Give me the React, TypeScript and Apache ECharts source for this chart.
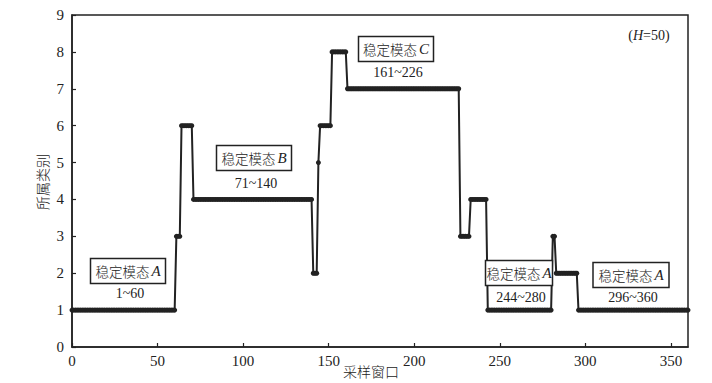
import React, { useEffect, useRef } from "react";
import * as echarts from "echarts";

// Category (所属类别) of each sampling window 0..360
const categoryValues: number[] = [
  // 0..60
  1, 1, 1, 1, 1, 1, 1, 1, 1, 1, 1, 1, 1, 1, 1, 1, 1, 1, 1, 1,
  1, 1, 1, 1, 1, 1, 1, 1, 1, 1, 1, 1, 1, 1, 1, 1, 1, 1, 1, 1,
  1, 1, 1, 1, 1, 1, 1, 1, 1, 1, 1, 1, 1, 1, 1, 1, 1, 1, 1, 1,
  1,
  // 61..70
  3, 3, 3, 6, 6, 6, 6, 6, 6, 6,
  // 71..140
  4, 4, 4, 4, 4, 4, 4, 4, 4, 4, 4, 4, 4, 4, 4, 4, 4, 4, 4, 4,
  4, 4, 4, 4, 4, 4, 4, 4, 4, 4, 4, 4, 4, 4, 4, 4, 4, 4, 4, 4,
  4, 4, 4, 4, 4, 4, 4, 4, 4, 4, 4, 4, 4, 4, 4, 4, 4, 4, 4, 4,
  4, 4, 4, 4, 4, 4, 4, 4, 4, 4,
  // 141..160
  2, 2, 2, 5, 6, 6, 6, 6, 6, 6, 6, 8, 8, 8, 8, 8, 8, 8, 8, 8,
  // 161..226
  7, 7, 7, 7, 7, 7, 7, 7, 7, 7, 7, 7, 7, 7, 7, 7, 7, 7, 7, 7,
  7, 7, 7, 7, 7, 7, 7, 7, 7, 7, 7, 7, 7, 7, 7, 7, 7, 7, 7, 7,
  7, 7, 7, 7, 7, 7, 7, 7, 7, 7, 7, 7, 7, 7, 7, 7, 7, 7, 7, 7,
  7, 7, 7, 7, 7, 7,
  // 227..242
  3, 3, 3, 3, 3, 3, 4, 4, 4, 4, 4, 4, 4, 4, 4, 4,
  // 243..280
  1, 1, 1, 1, 1, 1, 1, 1, 1, 1, 1, 1, 1, 1, 1, 1, 1, 1, 1, 1,
  1, 1, 1, 1, 1, 1, 1, 1, 1, 1, 1, 1, 1, 1, 1, 1, 1, 1,
  // 281..295
  3, 3, 2, 2, 2, 2, 2, 2, 2, 2, 2, 2, 2, 2, 2,
  // 296..360
  1, 1, 1, 1, 1, 1, 1, 1, 1, 1, 1, 1, 1, 1, 1, 1, 1, 1, 1, 1,
  1, 1, 1, 1, 1, 1, 1, 1, 1, 1, 1, 1, 1, 1, 1, 1, 1, 1, 1, 1,
  1, 1, 1, 1, 1, 1, 1, 1, 1, 1, 1, 1, 1, 1, 1, 1, 1, 1, 1, 1,
  1, 1, 1, 1, 1,
];

// Annotated stable modes
const modeNames: string[] = ["A", "B", "C", "A", "A"];
const modeRanges: string[] = ["1~60", "71~140", "161~226", "244~280", "296~360"];

const xTitle = "采样窗口";
const yTitle = "所属类别";

// layout of the annotation boxes (pixels): box centre x, y, width; range text y
const annotationLayout = [
  { cx: 128, cy: 271, w: 75, ry: 293 },
  { cx: 254, cy: 158, w: 75, ry: 183 },
  { cx: 396, cy: 49, w: 75, ry: 72 },
  { cx: 519, cy: 273, w: 67, ry: 297 },
  { cx: 631, cy: 275, w: 76, ry: 297 },
];

const SERIF = "'Liberation Serif', 'DejaVu Serif', serif";
const CJK = "'Noto Sans CJK SC', sans-serif";
const INK = "#222";

export default function App() {
  const ref = useRef<HTMLDivElement>(null);

  useEffect(() => {
    if (!ref.current) return;
    const chart = echarts.init(ref.current, undefined, { renderer: "svg" });

    const graphics: any[] = [];
    modeNames.forEach((name, i) => {
      const L = annotationLayout[i];
      const h = 25;
      graphics.push({
        type: "rect",
        shape: { x: L.cx - L.w / 2, y: L.cy - h / 2, width: L.w, height: h },
        style: { fill: "#fff", stroke: INK, lineWidth: 1.5 },
        z: 10,
      });
      graphics.push({
        type: "text",
        x: L.cx,
        y: L.cy,
        style: {
          text: "{cn|稳定模态}{it|" + name + "}",
          align: "center",
          verticalAlign: "middle",
          rich: {
            cn: { fontFamily: CJK, fontSize: 13.5, fill: INK, fontWeight: 300 },
            it: { fontFamily: SERIF, fontSize: 15, fontStyle: "italic", fill: INK, padding: [0, 0, 0, 2] },
          },
        },
        z: 11,
      });
      graphics.push({
        type: "text",
        x: L.cx + 2,
        y: L.ry,
        style: {
          text: modeRanges[i],
          align: "center",
          verticalAlign: "middle",
          fontFamily: SERIF,
          fontSize: 14,
          fill: INK,
        },
        z: 11,
      });
    });
    graphics.push({
      type: "text",
      x: 649,
      y: 35,
      style: {
        text: "({it|H}=50)",
        align: "center",
        verticalAlign: "middle",
        fontFamily: SERIF,
        fontSize: 14,
        fill: INK,
        rich: {
          it: { fontFamily: SERIF, fontSize: 14, fontStyle: "italic", fill: INK },
        },
      },
    });
    graphics.push({
      type: "text",
      x: 371,
      y: 371,
      style: {
        text: xTitle,
        align: "center",
        verticalAlign: "middle",
        fontFamily: CJK,
        fontSize: 14,
        fontWeight: 300,
        fill: INK,
      },
    });
    graphics.push({
      type: "text",
      x: 42,
      y: 182,
      rotation: Math.PI / 2,
      style: {
        text: yTitle,
        align: "center",
        verticalAlign: "middle",
        fontFamily: CJK,
        fontSize: 14,
        fontWeight: 300,
        fill: INK,
      },
    });

    const axisCommon = {
      axisLine: { show: true, lineStyle: { color: INK, width: 1.5 } },
      axisTick: { show: true, inside: true, length: 4, lineStyle: { color: INK, width: 1.2 } },
      axisLabel: { fontFamily: SERIF, fontSize: 15, color: INK },
      splitLine: { show: false },
    };

    chart.setOption({
      animation: false,
      backgroundColor: "#fff",
      grid: {
        left: 72,
        top: 15,
        right: 24,
        bottom: 36,
        show: true,
        borderColor: INK,
        borderWidth: 1.5,
      },
      xAxis: {
        type: "value",
        min: 0,
        max: 360,
        interval: 50,
        ...axisCommon,
        axisLabel: { ...axisCommon.axisLabel, margin: 6, showMaxLabel: false },
      },
      yAxis: {
        type: "value",
        min: 0,
        max: 9,
        interval: 1,
        ...axisCommon,
        axisLabel: { ...axisCommon.axisLabel, margin: 8 },
      },
      series: [
        {
          type: "line",
          data: categoryValues.map((v, i) => [i, v]),
          showAllSymbol: true,
          symbol: "circle",
          symbolSize: 5,
          lineStyle: { color: INK, width: 2 },
          itemStyle: { color: INK },
          z: 3,
        },
      ],
      graphic: graphics,
    });

    return () => chart.dispose();
  }, []);

  return (
    <div
      ref={ref}
      style={{ position: "fixed", left: 0, top: 0, width: 712, height: 383, background: "#fff" }}
    />
  );
}
